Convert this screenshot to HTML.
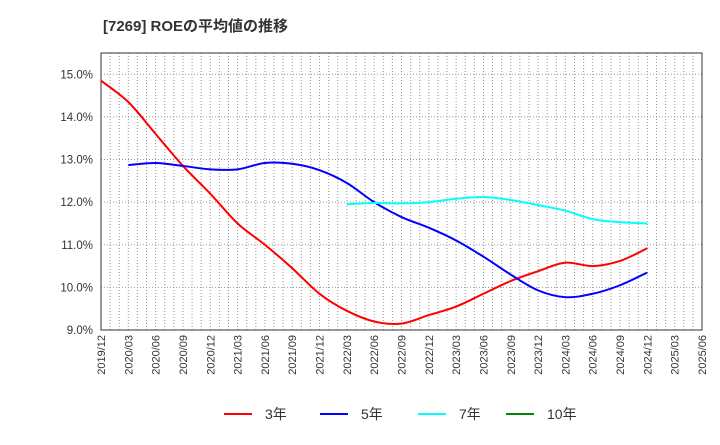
<!DOCTYPE html>
<html><head><meta charset="utf-8"><style>
body{margin:0;background:#fff;font-family:"Liberation Sans","Noto Sans CJK JP",sans-serif;}
svg text{font-family:"Liberation Sans","Noto Sans CJK JP",sans-serif;}
</style></head><body>
<svg id="c" width="720" height="440" xmlns="http://www.w3.org/2000/svg">
<text x="103" y="31" font-size="15" font-weight="bold" fill="#333">[7269]  ROEの平均値の推移</text>
<g id="grid"></g><g id="axes"></g><g id="series"></g><g id="legend"></g>
</svg>
<script>
const categories=["2019/12","2020/03","2020/06","2020/09","2020/12","2021/03","2021/06","2021/09","2021/12","2022/03","2022/06","2022/09","2022/12","2023/03","2023/06","2023/09","2023/12","2024/03","2024/06","2024/09","2024/12","2025/03","2025/06"];
const yTicks=[9,10,11,12,13,14,15];
const s3=[14.85,14.35,13.6,12.85,12.2,11.5,11.0,10.45,9.85,9.45,9.2,9.15,9.35,9.55,9.85,10.15,10.38,10.58,10.5,10.62,10.92];
const s5=[null,12.87,12.92,12.85,12.77,12.77,12.92,12.9,12.75,12.45,12.0,11.65,11.4,11.1,10.72,10.3,9.93,9.77,9.85,10.05,10.35];
const s7=[null,null,null,null,null,null,null,null,null,11.95,11.98,11.97,12.0,12.08,12.12,12.05,11.93,11.8,11.6,11.53,11.5];
const s10=[];
const L=101,R=702,T=53,B=330,yMin=9,yMax=15.5;
const NS="http://www.w3.org/2000/svg";
const X=i=>L+(R-L)*i/(categories.length-1);
const Y=v=>B-(v-yMin)/(yMax-yMin)*(B-T);
function mk(t,a,p){const e=document.createElementNS(NS,t);for(const k in a)e.setAttribute(k,a[k]);p.appendChild(e);return e;}
const grid=document.getElementById('grid'),axes=document.getElementById('axes'),ser=document.getElementById('series'),leg=document.getElementById('legend');
mk('rect',{x:L,y:T,width:R-L,height:B-T,fill:'#fff'},grid);
const nm=(categories.length-1)*3;
for(let m=1;m<nm;m++){const x=L+(R-L)*m/nm;const l=mk('line',{x1:x,x2:x,y1:T,y2:B,stroke:'#999','stroke-dasharray':'1,2','stroke-width':1},grid);

}
yTicks.forEach(v=>{const y=Y(v);const l=mk('line',{x1:L,x2:R,y1:y,y2:y,stroke:'#999','stroke-dasharray':'1,2'},grid);


const t=mk('text',{x:L-8,y:y+4,'text-anchor':'end','font-size':11.5,fill:'#333'},axes);t.textContent=v.toFixed(1)+'%';

});
mk('rect',{x:L,y:T,width:R-L,height:B-T,fill:'none',stroke:'#333','stroke-width':1},axes);
categories.forEach((c,i)=>{const x=X(i);const t=mk('text',{transform:`translate(${x+4},${B+5}) rotate(-90)`,'text-anchor':'end','font-size':11,fill:'#333'},axes);t.textContent=c;

});
function path(d){const p=[];d.forEach((v,i)=>{if(v!=null)p.push([X(i),Y(v)]);});if(p.length<2)return '';
let s=`M${p[0][0]},${p[0][1]}`;for(let i=0;i<p.length-1;i++){const p0=p[i-1]||p[i],p1=p[i],p2=p[i+1],p3=p[i+2]||p2;
s+=`C${p1[0]+(p2[0]-p0[0])/6},${p1[1]+(p2[1]-p0[1])/6} ${p2[0]-(p3[0]-p1[0])/6},${p2[1]-(p3[1]-p1[1])/6} ${p2[0]},${p2[1]}`;}return s;}
const S=[[s3,'#f00','3年','line-3yr'],[s5,'#00f','5年','line-5yr'],[s7,'#0ff','7年','line-7yr'],[s10,'#080','10年','line-10yr']];
const lx=[224,320,418,506];
S.forEach((s,k)=>{const d=path(s[0]);if(d){const p=mk('path',{d:d,fill:'none',stroke:s[1],'stroke-width':2},ser);

}
const g=mk('g',{},leg);


mk('line',{x1:lx[k],x2:lx[k]+28,y1:414,y2:414,stroke:s[1],'stroke-width':2},g);
const t=mk('text',{x:lx[k]+41,y:419,'font-size':14,fill:'#333'},g);t.textContent=s[2];});
</script>
</body></html>
